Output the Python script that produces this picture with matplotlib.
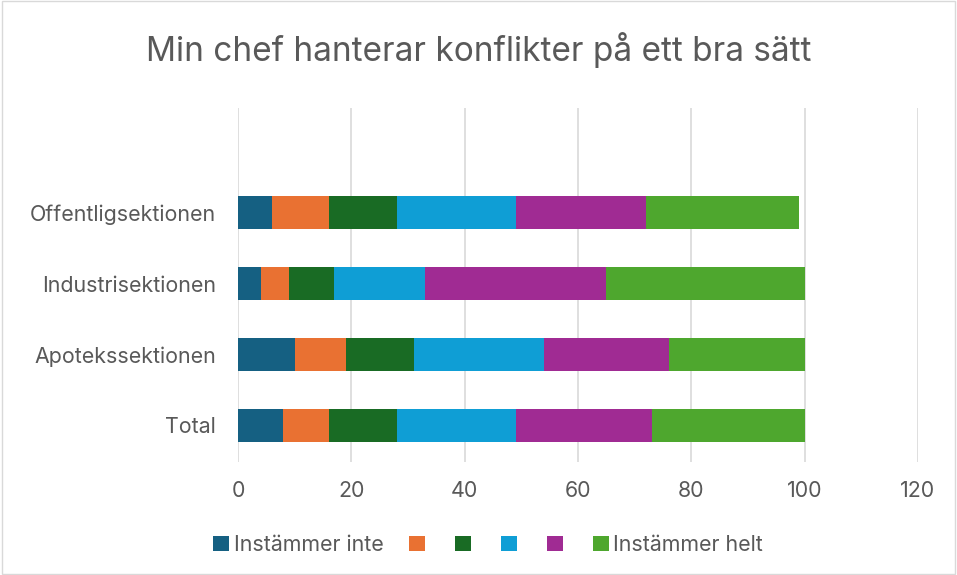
import numpy as np
import matplotlib.pyplot as plt
from matplotlib.patches import Rectangle

# ---------------- DATA ----------------
categories = ["Total", "Apotekssektionen", "Industrisektionen", "Offentligsektionen"]
series_labels = ["Instämmer inte", "", "", "", "", "Instämmer helt"]
s1 = [8, 10, 4, 6]
s2 = [8, 9, 5, 10]
s3 = [12, 12, 8, 12]
s4 = [21, 23, 16, 21]
s5 = [24, 22, 32, 23]
s6 = [27, 24, 35, 27]
colors = ["#156082", "#E97132", "#196B24", "#0F9ED5", "#A02B93", "#4EA72E"]

plt.rcParams['font.family'] = ['Inter', 'DejaVu Sans']
text_color = "#595959"

fig = plt.figure(figsize=(9.57, 5.75), dpi=100)
ax = fig.add_axes([0.2487, 0.1965, 0.7105, 0.6157])

y = np.arange(len(categories))
left = np.zeros(len(categories))
bars = []
for vals, col in zip([s1, s2, s3, s4, s5, s6], colors):
    b = ax.barh(y, vals, left=left, height=0.47, color=col, zorder=3)
    bars.append(b)
    left += np.array(vals)

ax.set_xlim(0, 120)
ax.set_ylim(-0.52, 4.48)
ax.set_xticks(range(0, 121, 20))
ax.set_yticks(y)
ax.set_yticklabels(categories)
ax.grid(axis="x", color="#d9d9d9", linewidth=1.2, zorder=0)
for s in ax.spines.values():
    s.set_visible(False)
ax.tick_params(length=0, labelsize=15.4, labelcolor=text_color)
ax.tick_params(axis="y", pad=16)
ax.tick_params(axis="x", pad=14)

fig.suptitle("Min chef hanterar konflikter på ett bra sätt", y=0.945,
             fontsize=24, color=text_color)

fig.legend(bars, series_labels, loc="center", bbox_to_anchor=(0.51, 0.052), ncol=6,
           frameon=False, fontsize=15.4, labelcolor=text_color,
           handlelength=0.75, handleheight=0.75, handletextpad=0.2,
           columnspacing=1.2)

fig.patches.append(Rectangle((0.002, 0.002), 0.996, 0.996, transform=fig.transFigure,
                             fill=False, edgecolor="#d9d9d9", linewidth=1))

fig.savefig("out.png", dpi=100, facecolor="white")
